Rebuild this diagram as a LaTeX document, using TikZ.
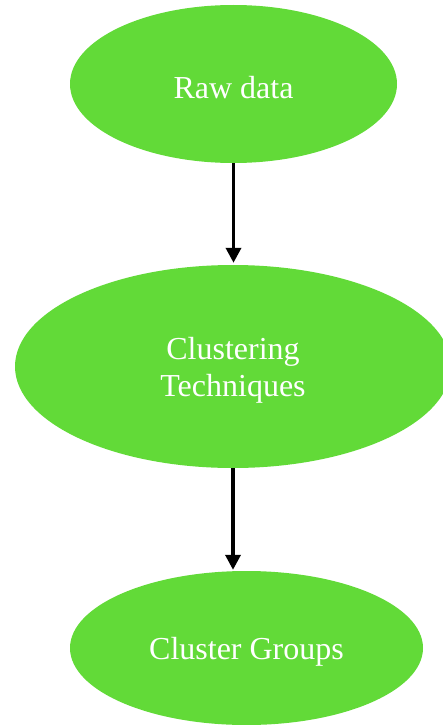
\documentclass[tikz,border=0pt]{standalone}
\usepackage{fontspec}
\setmainfont{Liberation Serif}
\usetikzlibrary{shapes.geometric,arrows.meta}
\definecolor{nodegreen}{HTML}{62DA38}
\newcommand{\lowerline}[1]{\raisebox{-4pt}[\height][\depth]{#1}}
\begin{document}
\begin{tikzpicture}[x=1pt,y=-1pt,
  blob/.style={ellipse,fill=nodegreen,draw=none,inner sep=0pt,text=white,
    font=\fontsize{32}{37}\selectfont,align=center},
  flow/.style={line width=3.5pt,-{Triangle[length=15pt,width=15pt]}}]
\useasboundingbox (0,0) rectangle (443,725);
\node[blob,minimum width=327pt,minimum height=158pt] (raw) at (233.5,84) {\lowerline{Raw data}};
\node[blob,minimum width=436pt,minimum height=203pt] (clust) at (233,366.5) {\lowerline{Clustering}\\\lowerline{Techniques}};
\node[blob,minimum width=353pt,minimum height=154pt] (groups) at (246.5,648) {\lowerline{Cluster Groups}};
\draw[flow,shorten >=2pt] (raw.south) -- (raw.south |- clust.north);
\draw[flow,shorten >=1pt] (clust.south) -- (clust.south |- groups.north);
\end{tikzpicture}
\end{document}
